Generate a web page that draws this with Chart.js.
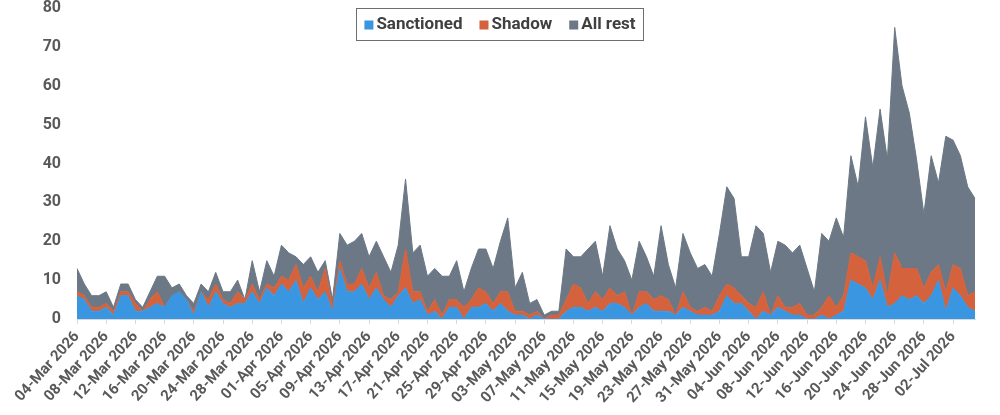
<!DOCTYPE html>
<html>
<head>
<meta charset="utf-8">
<script src="https://cdn.jsdelivr.net/npm/chart.js@4.4.1/dist/chart.umd.min.js"></script>
<style>
  html, body { margin: 0; padding: 0; background: #fff; }
  #wrap { width: 1000px; height: 415px; position: relative; }
</style>
</head>
<body>
<div id="wrap"><canvas id="chart"></canvas></div>
<script>
// daily categories, 04-Mar-2026 .. 05-Jul-2026
const startDate = "2026-03-04";
const dayCount = 124;
const monthNames = ["Jan", "Feb", "Mar", "Apr", "May", "Jun", "Jul", "Aug", "Sep", "Oct", "Nov", "Dec"];

const sanctioned = [
    6, 5, 2, 2, 3, 1, 6, 6, 2, 2, 3, 4, 3, 6, 7, 5, 1, 7, 3, 7,
    4, 3, 4, 4, 7, 4, 8, 6, 9, 7, 10, 4, 8, 5, 7, 2, 13, 7, 7, 9,
    5, 8, 5, 3, 6, 8, 4, 5, 1, 2, 0, 3, 3, 0, 3, 3, 4, 2, 4, 2,
    1, 1, 0, 1, 0, 0, 0, 2, 3, 3, 2, 3, 2, 4, 4, 3, 1, 3, 4, 2,
    2, 2, 1, 3, 2, 1, 1, 1, 2, 6, 4, 4, 2, 0, 2, 1, 3, 2, 1, 1,
    0, 0, 1, 0, 1, 2, 10, 9, 8, 5, 10, 3, 4, 6, 5, 6, 4, 6, 10, 2,
    8, 6, 3, 2
];
const shadow = [
    1, 1, 1, 1, 1, 1, 1, 1, 2, 0, 2, 3, 0, 0, 0, 0, 1, 0, 2, 2,
    1, 1, 3, 1, 2, 1, 1, 2, 2, 3, 4, 4, 3, 2, 6, 1, 2, 2, 2, 4,
    3, 4, 1, 2, 1, 10, 3, 2, 1, 3, 1, 2, 2, 3, 2, 5, 3, 2, 3, 5,
    1, 1, 1, 1, 0, 1, 1, 3, 6, 5, 2, 4, 3, 4, 2, 4, 0, 4, 3, 3,
    4, 3, 0, 4, 1, 1, 2, 1, 4, 3, 4, 2, 2, 3, 5, 0, 3, 1, 2, 3,
    1, 1, 2, 6, 2, 4, 7, 7, 7, 3, 6, 3, 13, 7, 8, 7, 4, 6, 4, 5,
    6, 7, 3, 5
];
const allRest = [
    6, 3, 3, 3, 3, 1, 2, 2, 1, 1, 2, 4, 8, 2, 2, 1, 2, 2, 2, 3,
    2, 3, 3, 0, 6, 2, 6, 3, 8, 7, 2, 6, 5, 5, 2, 2, 7, 10, 11, 9,
    8, 8, 10, 7, 12, 18, 10, 12, 9, 8, 10, 6, 10, 4, 8, 10, 11, 9, 13, 19,
    6, 10, 3, 3, 1, 1, 1, 13, 7, 8, 14, 13, 6, 16, 12, 8, 9, 13, 9, 6,
    18, 9, 7, 15, 14, 11, 11, 9, 16, 25, 23, 10, 12, 21, 15, 11, 14, 16, 14, 15,
    12, 6, 19, 14, 23, 15, 25, 18, 37, 31, 38, 35, 58, 47, 40, 28, 19, 30, 21, 40,
    32, 29, 28, 24
];

const seriesNames = ["Sanctioned", "Shadow", "All rest"];
const seriesColors = ["#3a96e0", "#d4623c", "#6c7885"];
const yTicks = [0, 10, 20, 30, 40, 50, 60, 70, 80];

const labels = [];
const d0 = new Date(startDate + "T00:00:00Z");
for (let i = 0; i < dayCount; i++) {
    const d = new Date(d0.getTime() + i * 86400000);
    const dd = String(d.getUTCDate()).padStart(2, "0");
    labels.push(dd + "-" + monthNames[d.getUTCMonth()] + " " + d.getUTCFullYear());
}

// legend drawn inside the plot, framed
const boxLegend = {
    id: "boxLegend",
    afterDraw(chart) {
        const ctx = chart.ctx;
        ctx.save();
        ctx.font = "bold 17px Roboto";
        ctx.textBaseline = "middle";
        const sq = 9, gapTxt = 3, gapItem = 17, pad = 8;
        const widths = chart.data.datasets.map(ds => ctx.measureText(ds.label).width);
        let total = pad * 2 + widths.reduce((a, w) => a + sq + gapTxt + w, 0) + gapItem * (widths.length - 1);
        const left = 500 - total / 2, top = 8, h = 32;
        ctx.strokeStyle = "#6e6e6e";
        ctx.lineWidth = 1;
        ctx.strokeRect(Math.round(left) + 0.5, top + 0.5, Math.round(total), h);
        let x = left + pad;
        const cy = top + h / 2 + 1;
        chart.data.datasets.forEach((ds, i) => {
            ctx.fillStyle = ds.backgroundColor;
            ctx.fillRect(x, cy - sq / 2, sq, sq);
            x += sq + gapTxt;
            ctx.fillStyle = "#404040";
            ctx.fillText(ds.label, x, cy);
            x += widths[i] + gapItem;
        });
        ctx.restore();
    }
};

const values = [sanctioned, shadow, allRest];

new Chart(document.getElementById("chart"), {
    type: "line",
    data: {
        labels: labels,
        datasets: values.map((v, i) => ({
            label: seriesNames[i],
            data: v,
            backgroundColor: seriesColors[i],
            borderColor: seriesColors[i],
            borderWidth: 1,
            pointRadius: 0,
            tension: 0,
            fill: i === 0 ? "origin" : "-1"
        }))
    },
    options: {
        responsive: true,
        maintainAspectRatio: false,
        animation: false,
        layout: { padding: { left: 0, right: 25, top: 8, bottom: 0 } },
        plugins: {
            legend: { display: false },
            tooltip: { enabled: false }
        },
        scales: {
            x: {
                grid: { drawOnChartArea: false, drawTicks: true, tickLength: 5, color: "#d9d9d9" },
                border: { display: true, color: "#d9d9d9" },
                ticks: {
                    autoSkip: false,
                    maxRotation: 48,
                    minRotation: 48,
                    padding: 4,
                    color: "#595959",
                    font: { family: "Roboto", size: 15, weight: "bold" },
                    callback: function (val, idx) {
                        return idx % 4 === 0 ? this.getLabelForValue(val) : null;
                    }
                },
                afterFit(scale) {
                    scale.height = 96;
                    scale.paddingTop = 0;
                    scale.paddingBottom = 0;
                    scale.paddingLeft = 0;
                    scale.paddingRight = 0;
                }
            },
            y: {
                stacked: true,
                min: 0,
                max: 80,
                afterBuildTicks(scale) { scale.ticks = yTicks.map(v => ({ value: v })); },
                grid: { display: false, drawTicks: false },
                border: { display: false },
                ticks: {
                    padding: 16,
                    color: "#595959",
                    font: { family: "Roboto", size: 16, weight: "bold" }
                },
                afterFit(scale) {
                    scale.width = 77;
                    scale.paddingTop = 0;
                    scale.paddingBottom = 0;
                }
            }
        }
    },
    plugins: [boxLegend]
});
</script>
</body>
</html>
